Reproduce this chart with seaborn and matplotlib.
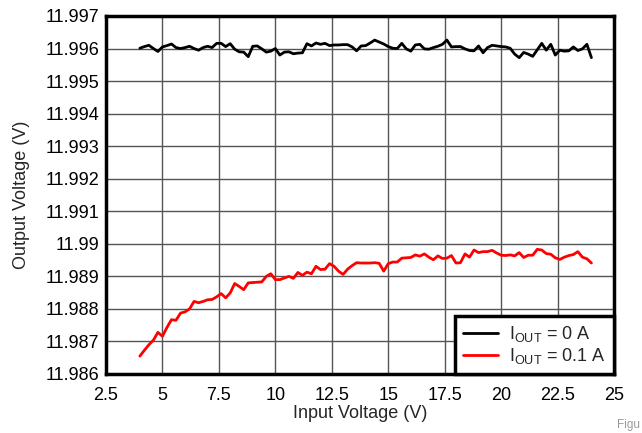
import numpy as np
import pandas as pd
import matplotlib
matplotlib.use("Agg")
import matplotlib.pyplot as plt
import seaborn as sns

# Input voltage (V), 4.0 .. 24.0 step 0.2
vin = [round(4.0 + 0.2 * i, 1) for i in range(101)]

# Offsets from 11.996 V for IOUT = 0 A (units of 1e-5 V)
iout0_dev = [1, 6, 10, 0, -9, 5, 9, 14, 3, 0,
             3, 7, 0, -5, 3, 7, 3, 16, 16, 6,
             15, -2, -10, -11, -25, 7, 8, -1, -11, -8,
             0, -20, -11, -10, -16, -14, -13, 15, 8, 17,
             13, 16, 9, 11, 11, 12, 12, 5, -7, 8,
             9, 17, 26, 20, 14, 6, 1, 0, 16, -1,
             -8, 11, 13, -1, -2, 3, 7, 13, 26, 5,
             6, 6, -1, -6, -7, 8, -13, 3, 10, 8,
             6, 5, 1, -17, -28, -12, -17, -24, -4, 16,
             -5, 13, -20, -5, -8, -7, 5, -6, -1, 13,
             -28]
vout_0A = [11.996 + d * 1e-5 for d in iout0_dev]

vout_01A = [11.98655, 11.98673, 11.98690, 11.98704, 11.98728, 11.98716, 11.98743, 11.98767, 11.98765, 11.98787,
            11.98791, 11.98800, 11.98823, 11.98819, 11.98823, 11.98828, 11.98829, 11.98837, 11.98847, 11.98834,
            11.98849, 11.98878, 11.98869, 11.98859, 11.98880, 11.98881, 11.98882, 11.98883, 11.98900, 11.98908,
            11.98890, 11.98890, 11.98895, 11.98900, 11.98894, 11.98912, 11.98903, 11.98913, 11.98908, 11.98931,
            11.98921, 11.98922, 11.98939, 11.98931, 11.98916, 11.98906, 11.98922, 11.98933, 11.98942, 11.98941,
            11.98941, 11.98941, 11.98942, 11.98940, 11.98916, 11.98939, 11.98944, 11.98944, 11.98956, 11.98957,
            11.98958, 11.98966, 11.98962, 11.98969, 11.98959, 11.98951, 11.98963, 11.98955, 11.98956, 11.98964,
            11.98941, 11.98942, 11.98969, 11.98959, 11.98981, 11.98973, 11.98976, 11.98976, 11.98980, 11.98972,
            11.98965, 11.98964, 11.98966, 11.98963, 11.98973, 11.98958, 11.98965, 11.98965, 11.98983, 11.98981,
            11.98970, 11.98968, 11.98957, 11.98952, 11.98959, 11.98964, 11.98967, 11.98976, 11.98959, 11.98954,
            11.98941]

label0 = r"I$_{\mathregular{OUT}}$ = 0 A"
label1 = r"I$_{\mathregular{OUT}}$ = 0.1 A"

x_ticks = [2.5, 5, 7.5, 10, 12.5, 15, 17.5, 20, 22.5, 25]
x_tick_labels = ["2.5", "5", "7.5", "10", "12.5", "15", "17.5", "20", "22.5", "25"]
y_ticks = [11.986, 11.987, 11.988, 11.989, 11.99, 11.991, 11.992, 11.993, 11.994, 11.995, 11.996, 11.997]
y_tick_labels = ["11.986", "11.987", "11.988", "11.989", "11.99", "11.991", "11.992",
                 "11.993", "11.994", "11.995", "11.996", "11.997"]

df = pd.DataFrame({
    "vin": vin * 2,
    "vout": vout_0A + vout_01A,
    "series": [label0] * len(vin) + [label1] * len(vin),
})

sns.set_theme(style="white")
plt.rcParams["font.family"] = ["Liberation Sans", "DejaVu Sans"]
plt.rcParams["mathtext.fontset"] = "custom"
plt.rcParams["mathtext.rm"] = "Liberation Sans"
plt.rcParams["mathtext.it"] = "Liberation Sans"

FS = 13

fig = plt.figure(figsize=(6.42, 4.33), dpi=100)
ax = fig.add_axes([106 / 642, 1 - 374 / 433, (614 - 106) / 642, (374 - 16) / 433])

sns.lineplot(data=df, x="vin", y="vout", hue="series",
             palette={label0: "#000000", label1: "#ff0000"},
             linewidth=2.0, ax=ax, legend=True)

ax.set_xlim(2.5, 25)
ax.set_ylim(11.986, 11.997)
ax.set_xticks(x_ticks)
ax.set_xticklabels(x_tick_labels, fontsize=FS)
ax.set_yticks(y_ticks)
ax.set_yticklabels(y_tick_labels, fontsize=FS)
ax.tick_params(axis="y", length=0, pad=5, colors="black")
ax.tick_params(axis="x", length=0, pad=9, colors="black")
ax.grid(True, color="#555555", linewidth=1.0)
ax.set_axisbelow(True)
for s in ax.spines.values():
    s.set_linewidth(2.5)
    s.set_color("black")

ax.set_xlabel("Input Voltage (V)", fontsize=FS, labelpad=1)
ax.set_ylabel("Output Voltage (V)", fontsize=FS, labelpad=11)

leg = ax.legend(loc="lower right", fontsize=FS, frameon=True, fancybox=False,
                borderaxespad=0, handlelength=1.95, handletextpad=0.6,
                borderpad=0.45, labelspacing=0.1)
leg.get_frame().set_edgecolor("black")
leg.get_frame().set_linewidth(2.5)
leg.get_frame().set_alpha(1)

fig.text(617 / 642, 1 - 428 / 433, "Figu", fontsize=8.5, color="#999999", ha="left", va="baseline")

fig.savefig("out.png", dpi=100)
